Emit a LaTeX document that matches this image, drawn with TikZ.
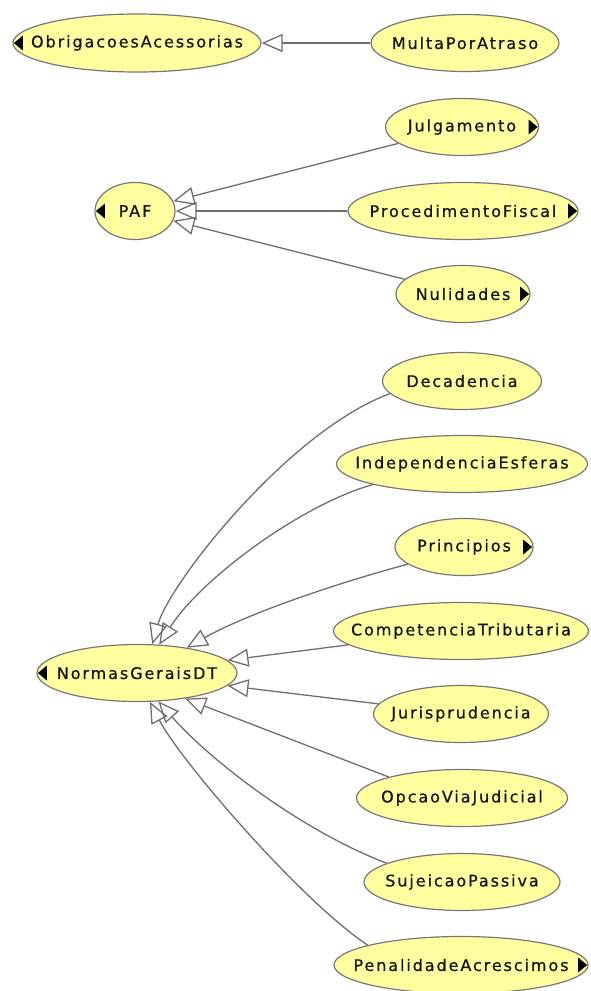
\documentclass[tikz,border=0pt]{standalone}
\usepackage{fontspec}
\newfontfamily\lblfont[LetterSpace=12,FakeBold=0.6]{DejaVu Sans}
\usetikzlibrary{arrows.meta,shapes.geometric,calc}
\definecolor{classfill}{HTML}{FFFFA0}
\definecolor{classline}{HTML}{777777}
\definecolor{edgeline}{HTML}{6E6E6E}
% zero-width text box so the ellipse keeps the size it is given
\newcommand\lbl[1]{\makebox[0pt][c]{#1}}
% small black markers for collapsed branches
\newcommand\collapsedR[1]{\fill[black] ($(#1.east)+(-1.5,0)$) -- ++(-9,-7.5) -- ++(0,15) -- cycle;}
\newcommand\collapsedL[1]{\fill[black] ($(#1.west)+(1.5,0)$) -- ++(9,-7.5) -- ++(0,15) -- cycle;}
\begin{document}
\begin{tikzpicture}[x=1pt,y=-1pt,
  cls/.style={ellipse, draw=classline, fill=classfill, line width=1.2pt,
    inner sep=0pt, minimum height=57pt,
    font=\lblfont\fontsize{16}{19}\selectfont, text=black!92},
  isa/.style={draw=edgeline, line width=1.3pt,
    -{Triangle[open,length=21pt,width=18pt]}}]
\useasboundingbox (0,0) rectangle (590,991);

% classes
\node[cls, minimum width=248pt, minimum height=58pt] (obr) at (137,43) {\lbl{ObrigacoesAcessorias}};
\node[cls, minimum width=188pt] (multa) at (465,43)  {\lbl{MultaPorAtraso}};

\node[cls, minimum width=80pt]  (paf)   at (135,211) {\lbl{PAF}};
\node[cls, minimum width=153pt] (julg)  at (462,127) {\lbl{Julgamento}};
\node[cls, minimum width=230pt] (proc)  at (463,211) {\lbl{ProcedimentoFiscal}};
\node[cls, minimum width=134pt] (nul)   at (463,294) {\lbl{Nulidades}};

\node[cls, minimum width=200pt] (ngdt)  at (137,673) {\lbl{NormasGeraisDT}};
\node[cls, minimum width=159pt] (dec)   at (462,381) {\lbl{Decadencia}};
\node[cls, minimum width=251pt] (ind)   at (462,464) {\lbl{IndependenciaEsferas}};
\node[cls, minimum width=138pt] (prin)  at (464,547) {\lbl{Principios}};
\node[cls, minimum width=255pt] (comp)  at (461,631) {\lbl{CompetenciaTributaria}};
\node[cls, minimum width=175pt] (jur)   at (461,714) {\lbl{Jurisprudencia}};
\node[cls, minimum width=211pt] (opc)   at (462,798) {\lbl{OpcaoViaJudicial}};
\node[cls, minimum width=196pt] (suj)   at (462,882) {\lbl{SujeicaoPassiva}};
\node[cls, minimum width=254pt] (pen)   at (461,965) {\lbl{PenalidadeAcrescimos}};

% collapsed markers
\collapsedL{obr}
\collapsedL{paf}
\collapsedL{ngdt}
\collapsedR{julg}
\collapsedR{proc}
\collapsedR{nul}
\collapsedR{prin}
\collapsedR{pen}

% subclass links
\draw[isa] (multa) -- (obr);
\draw[isa] (julg) -- (paf);
\draw[isa] (proc) -- (paf);
\draw[isa] (nul) -- (paf);

\draw[isa] (dec.190) .. controls (290,430) and (170,582) .. (ngdt.62);
\draw[isa] (ind.193) .. controls (300,505) and (200,580) .. (ngdt.52);
\draw[isa] (prin.197) .. controls (330,585) and (245,615) .. (ngdt.27);
\draw[isa] (comp.187) -- (ngdt.8);
\draw[isa] (jur.173) -- (ngdt.-8);
\draw[isa] (opc.164) -- (ngdt.-28);
\draw[isa] (suj.166) .. controls (300,830) and (210,760) .. (ngdt.-53);
\draw[isa] (pen.168) .. controls (300,900) and (180,760) .. (ngdt.-66);
\end{tikzpicture}
\end{document}
